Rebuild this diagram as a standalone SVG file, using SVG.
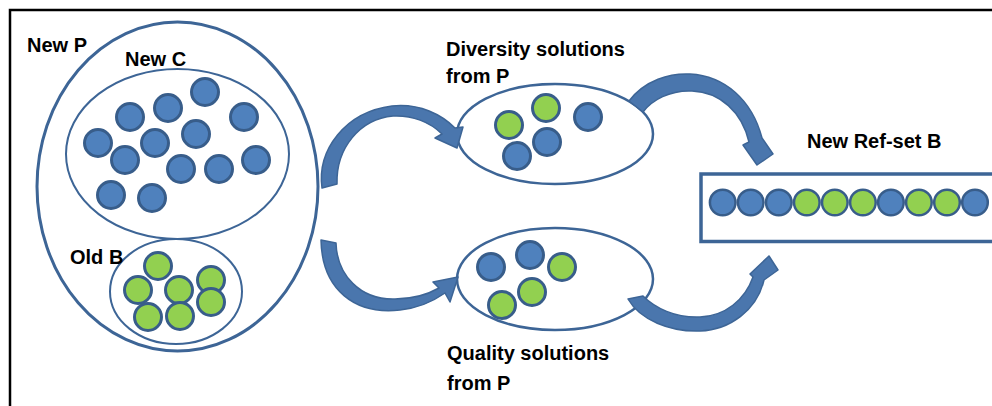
<svg xmlns="http://www.w3.org/2000/svg" width="992" height="406" viewBox="0 0 992 406">
  <style>
    .lbl { font-family: "Liberation Sans", Arial, sans-serif; font-weight: bold; font-size: 20px; fill: #000; }
    .set { fill: none; stroke: #3d6596; }
    .blue { fill: #4f81bd; stroke: #385d8a; stroke-width: 3; }
    .green { fill: #92d050; stroke: #385d8a; stroke-width: 3; }
    .arrow { fill: #4a76ad; stroke: #3d6596; stroke-width: 1.5; stroke-linejoin: round; }
  </style>
  <defs>
    <circle id="b" r="13.5" class="blue"/>
    <circle id="g" r="13.5" class="green"/>
    <circle id="bs" r="12.8" class="blue" style="stroke-width:2.5"/>
    <circle id="gs" r="12.8" class="green" style="stroke-width:2.5"/>
  </defs>

  <rect width="992" height="406" fill="#fff"/>
  <!-- frame -->
  <path d="M10,406 V10 H992" fill="none" stroke="#000" stroke-width="2.5"/>

  <!-- population P with new candidates C and old reference set B -->
  <g id="new-p">
    <ellipse class="set" cx="177.5" cy="186.5" rx="140.5" ry="164.5" stroke-width="3"/>
    <text class="lbl" x="27" y="52">New P</text>
  </g>
  <g id="new-c">
    <ellipse class="set" cx="177.5" cy="154" rx="111.5" ry="85" stroke-width="2"/>
    <text class="lbl" x="125" y="66">New C</text>
    <use href="#b" x="205" y="92"/>
    <use href="#b" x="168" y="108"/>
    <use href="#b" x="130" y="117"/>
    <use href="#b" x="244" y="117"/>
    <use href="#b" x="98" y="143"/>
    <use href="#b" x="155" y="143"/>
    <use href="#b" x="196" y="134"/>
    <use href="#b" x="125" y="160"/>
    <use href="#b" x="181" y="169"/>
    <use href="#b" x="219" y="169"/>
    <use href="#b" x="256" y="160"/>
    <use href="#b" x="111" y="195"/>
    <use href="#b" x="152" y="198"/>
  </g>
  <g id="old-b">
    <ellipse class="set" cx="176" cy="291.5" rx="66" ry="52.5" stroke-width="2"/>
    <text class="lbl" x="70" y="264">Old B</text>
    <use href="#g" x="158" y="266"/>
    <use href="#g" x="138" y="290"/>
    <use href="#g" x="179" y="290"/>
    <use href="#g" x="211" y="280"/>
    <use href="#g" x="211" y="302"/>
    <use href="#g" x="148" y="317"/>
    <use href="#g" x="180" y="316"/>
  </g>

  <!-- diverse subset -->
  <g id="diversity">
    <ellipse class="set" cx="555" cy="134" rx="98" ry="50" stroke-width="2.5"/>
    <text class="lbl" x="446" y="56">Diversity solutions</text>
    <text class="lbl" x="446" y="83">from P</text>
    <use href="#g" x="509" y="125"/>
    <use href="#g" x="546" y="108"/>
    <use href="#b" x="588" y="117"/>
    <use href="#b" x="547" y="142"/>
    <use href="#b" x="517" y="156"/>
  </g>

  <!-- high-quality subset -->
  <g id="quality">
    <ellipse class="set" cx="555" cy="279" rx="98" ry="51" stroke-width="2.5"/>
    <text class="lbl" x="447" y="360">Quality solutions</text>
    <text class="lbl" x="447" y="390">from P</text>
    <use href="#b" x="491" y="267"/>
    <use href="#b" x="530" y="255"/>
    <use href="#g" x="562" y="267"/>
    <use href="#g" x="532" y="292"/>
    <use href="#g" x="502" y="305"/>
  </g>

  <!-- resulting reference set -->
  <g id="ref-set">
    <rect x="701" y="174" width="300" height="67.5" fill="none" stroke="#3d6596" stroke-width="3.5"/>
    <text class="lbl" x="807" y="148">New Ref-set B</text>
    <use href="#bs" x="722.7" y="202.5"/>
    <use href="#bs" x="750.7" y="202.5"/>
    <use href="#bs" x="778.8" y="202.5"/>
    <use href="#gs" x="806.8" y="202.5"/>
    <use href="#gs" x="834.8" y="202.5"/>
    <use href="#gs" x="862.9" y="202.5"/>
    <use href="#bs" x="890.9" y="202.5"/>
    <use href="#gs" x="918.9" y="202.5"/>
    <use href="#gs" x="947" y="202.5"/>
    <use href="#bs" x="975" y="202.5"/>
  </g>

  <!-- curved block arrows -->
  <g id="connectors">
    <path class="arrow" d="M322,188 C317,150 345,112 392,106 C420,103 442,115 455,128 L463,127 L457,148 L435,138 L442,134 C430,122 412,115 393,116 C360,119 336,148 337,184 Z"/>
    <path class="arrow" d="M321,240 C322,290 355,315 400,310 C420,308 435,300 445,293 L450,302 L458,277 L433,282 L439,288 C425,296 410,299 395,299 C360,300 337,275 336,243 Z"/>
    <path class="arrow" d="M629,101 C645,80 670,73 690,74 C725,76 752,100 762,138 L773,154 L757,165 L743,145 L749,142 C742,112 720,92 692,91 C670,90 652,100 643,112 Z"/>
    <path class="arrow" d="M628,299 C640,320 670,332 700,331 C730,330 757,310 764,280 L778,270 L769,256 L750,274 L753,277 C745,300 725,316 700,317 C675,318 655,308 643,296 Z"/>
  </g>
</svg>
